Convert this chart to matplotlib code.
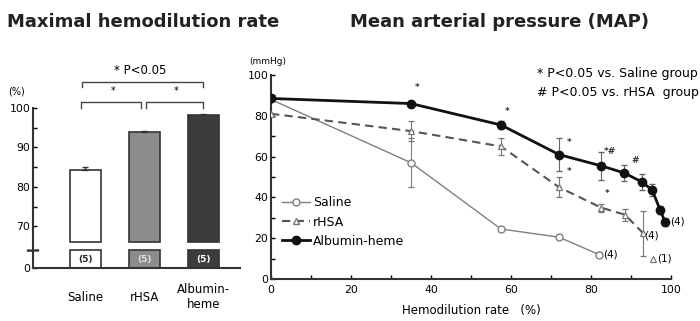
import numpy as np
import matplotlib.pyplot as plt
from matplotlib.lines import Line2D

plt.rcParams['font.family'] = ['DejaVu Sans']

# maximal hemodilution rate (%)
groups = ['Saline', 'rHSA', 'Albumin-\nheme']
max_rate = [84.2, 93.8, 98.1]
max_rate_err = [0.8, 0.4, 0.3]
n_animals = ['(5)', '(5)', '(5)']
bar_colors = ['white', '#8c8c8c', '#3c3c3c']
n_text_colors = ['#222222', '#e0e0e0', 'white']

# MAP (mmHg) vs hemodilution rate (%)
saline_x = [0, 35, 57.5, 72, 82]
saline_y = [88, 57, 24.5, 20.5, 12]
saline_err = [0, 12, 1, 1, 1]

rhsa_x = [0, 35, 57.5, 72, 82.5, 88.5, 93]
rhsa_y = [81, 72.5, 65, 45, 35, 31.5, 22.5]
rhsa_err = [0, 5, 4, 5, 2, 3, 11]
rhsa_last_x = [95.5]
rhsa_last_y = [10]

alb_x = [0, 35, 57.5, 72, 82.5, 88.3, 92.8, 95.3, 97.3, 98.5]
alb_y = [88.5, 86, 75.5, 61, 55.5, 52, 47.5, 43.6, 33.8, 28]
alb_err = [1, 1, 2, 8, 7, 4, 4, 3, 2, 2]

# significance marks
sig_x = [36.5, 59, 74.5, 74.5, 84.7, 91, 84]
sig_y = [94, 82, 67, 52.5, 62.5, 58, 42]
sig_txt = ['*', '*', '*', '*', '*#', '#', '*']

fig = plt.figure(figsize=(7, 3.21), dpi=100)

# ---- left: broken y axis bar chart ----
ax1 = fig.add_axes([33/700, 1-268/321, 207/700, 160/321])
BRK = 64.0
C = 0.0712


def fwd(v):
    v = np.asarray(v, dtype=float)
    return np.where(v >= BRK, v, BRK - (BRK - v) * C)


def inv(u):
    u = np.asarray(u, dtype=float)
    return np.where(u >= BRK, u, BRK - (BRK - u) / C)


ax1.set_yscale('function', functions=(fwd, inv))
ax1.set_ylim(0, 100)
ax1.set_xlim(-0.89, 2.62)

xpos = np.arange(len(groups))
bar_bottom = 66
ax1.bar(xpos, np.array(max_rate) - bar_bottom, bottom=bar_bottom, width=0.525,
        color=bar_colors, edgecolor='#333333', linewidth=1.2, zorder=2)
ax1.errorbar(xpos, max_rate, yerr=[np.zeros(3), max_rate_err], fmt='none',
             ecolor='#333333', elinewidth=1, capsize=2.5, zorder=3)
# n boxes below the break
ax1.bar(xpos, 63.8, bottom=0, width=0.525, color=bar_colors,
        edgecolor='#333333', linewidth=1.2, zorder=2)
for x, t, c in zip(xpos, n_animals, n_text_colors):
    ax1.text(x, 30, t, ha='center', va='center', fontsize=6.5, color=c,
             fontweight='bold', zorder=4)

ax1.set_yticks([0, 70, 80, 90, 100])
ax1.set_yticklabels(['0', '70', '80', '90', '100'])
ax1.set_yticks([75, 85, 95], minor=True)
ax1.tick_params(axis='y', which='both', direction='in', length=3, labelsize=7.8,
                pad=2, width=1)
ax1.set_xticks(xpos)
ax1.set_xticklabels(groups, fontsize=8.5, linespacing=1.2)
ax1.tick_params(axis='x', length=0, pad=21)
for lab in ax1.get_xticklabels():
    lab.set_verticalalignment('center')
for s in ['top', 'right']:
    ax1.spines[s].set_visible(False)
for s in ['left', 'bottom']:
    ax1.spines[s].set_linewidth(1.5)
    ax1.spines[s].set_color('#333333')

# axis break marks
trans = ax1.get_yaxis_transform()
for yb in [61.5, 62.8]:
    ax1.plot([-0.025, 0.025], [yb - 0.3, yb + 0.3], transform=trans, color='#333333',
             lw=1.3, clip_on=False, zorder=5)

ax1.text(-0.12, 1.10, '(%)', transform=ax1.transAxes, fontsize=7, ha='left',
         va='center')

# significance brackets
bt = ax1.get_xaxis_transform()


def bracket(x0, x1, y_top, y_end):
    ax1.plot([x0, x0, x1, x1], [y_end, y_top, y_top, y_end], transform=bt,
             color='#444444', lw=1, clip_on=False)


bracket(xpos[0] - 0.08, xpos[1] - 0.06, 1.0375, 1.0)
bracket(xpos[1] + 0.03, xpos[2] - 0.01, 1.0375, 1.0)
bracket(xpos[0] - 0.06, xpos[2] - 0.01, 1.1625, 1.131)
ax1.text(0.47, 1.105, '*', transform=bt, ha='center', va='center', fontsize=7)
ax1.text(1.53, 1.105, '*', transform=bt, ha='center', va='center', fontsize=7)
ax1.text(0.93, 1.2375, '* P<0.05', transform=bt, ha='center', va='center',
         fontsize=8.5)

fig.text(143/700, 1-22/321, 'Maximal hemodilution rate', ha='center', va='center',
         fontsize=13, fontweight='bold', color='#222222')

# ---- right: MAP curves ----
ax2 = fig.add_axes([271/700, 1-279/321, 400/700, 204/321])
ax2.errorbar(saline_x, saline_y, yerr=saline_err, color='#808080', lw=1,
             marker='o', ms=5, mfc='white', mec='#808080', mew=1,
             capsize=2, elinewidth=0.8, zorder=2)
ax2.errorbar(rhsa_x, rhsa_y, yerr=rhsa_err, color='#555555', lw=1.5,
             ls=(0, (4, 2.5)), marker='^', ms=5, mfc='white', mec='#777777',
             mew=0.9, capsize=2, elinewidth=0.8, ecolor='#777777', zorder=3)
ax2.plot(rhsa_last_x, rhsa_last_y, ls='none', marker='^', ms=5, mfc='white',
         mec='#777777', mew=0.9)
ax2.errorbar(alb_x, alb_y, yerr=alb_err, color='#111111', lw=2, marker='o',
             ms=6, mfc='#111111', mec='#111111', capsize=2, elinewidth=0.8,
             ecolor='#666666', zorder=4)

ax2.annotate('(4)', (alb_x[-1], alb_y[-1]), xytext=(4, 0),
             textcoords='offset points', va='center', fontsize=7.5)
ax2.annotate('(4)', (saline_x[-1], saline_y[-1]), xytext=(3, 0),
             textcoords='offset points', va='center', fontsize=7.5)
ax2.annotate('(4)', (rhsa_x[-1], rhsa_y[-1]), xytext=(1, -2),
             textcoords='offset points', va='center', fontsize=7.5)
ax2.annotate('(1)', (rhsa_last_x[0], rhsa_last_y[0]), xytext=(3, 0),
             textcoords='offset points', va='center', fontsize=7.5)
for x, y, t in zip(sig_x, sig_y, sig_txt):
    ax2.text(x, y, t, ha='center', va='center', fontsize=6.5, fontweight='bold',
             color='#333333')

ax2.set_xlim(0, 100)
ax2.set_ylim(0, 100)
ax2.set_xticks(np.arange(0, 101, 20))
ax2.set_xticks(np.arange(10, 100, 20), minor=True)
ax2.set_yticks(np.arange(0, 101, 20))
ax2.set_yticks(np.arange(10, 100, 20), minor=True)
ax2.tick_params(which='both', direction='in', length=3, labelsize=7.8, width=1)
ax2.tick_params(axis='x', pad=4)
ax2.tick_params(axis='y', pad=2)
for s in ['top', 'right']:
    ax2.spines[s].set_visible(False)
for s in ['left', 'bottom']:
    ax2.spines[s].set_linewidth(1.5)
    ax2.spines[s].set_color('#333333')

ax2.set_xlabel('Hemodilution rate   (%)', fontsize=8.5, labelpad=7)
ax2.text(-0.055, 1.065, '(mmHg)', transform=ax2.transAxes, fontsize=6.5,
         ha='left', va='center')

handles = [
    Line2D([], [], color='#808080', lw=1, marker='o', ms=5, mfc='white',
           mec='#808080'),
    Line2D([], [], color='#555555', lw=1.5, ls=(0, (4, 2.5)), marker='^', ms=5,
           mfc='white', mec='#777777'),
    Line2D([], [], color='#111111', lw=2, marker='o', ms=6, mfc='#111111'),
]
ax2.legend(handles, ['Saline', 'rHSA', 'Albumin-heme'], loc='upper left',
           bbox_to_anchor=(0.015, 0.43), frameon=False, fontsize=9,
           handlelength=2.2, handletextpad=0.3, labelspacing=0.5,
           borderaxespad=0)

fig.text(500/700, 1-22/321, 'Mean arterial pressure (MAP)', ha='center',
         va='center', fontsize=13, fontweight='bold', color='#222222')
fig.text(537/700, 1-73/321, '* P<0.05 vs. Saline group', ha='left',
         va='center', fontsize=9)
fig.text(537/700, 1-93/321, '# P<0.05 vs. rHSA  group', ha='left',
         va='center', fontsize=9)

fig.savefig('out.png', dpi=100)
